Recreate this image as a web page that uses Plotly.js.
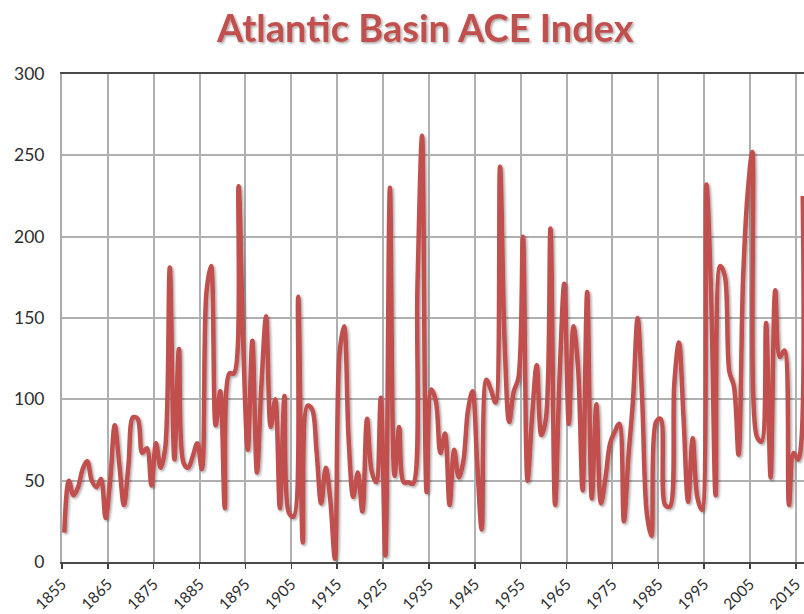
<!DOCTYPE html>
<html>
<head>
<meta charset="utf-8">
<script src="https://cdn.plot.ly/plotly-3.0.1.min.js"></script>
<style>
  html, body { margin: 0; padding: 0; background: #fff; }
  #chart { width: 804px; height: 614px; }
</style>
</head>
<body>
<div id="chart"></div>
<script>
const years = [
  1855,1856,1857,1858,1859,1860,1861,1862,1863,1864,
  1865,1866,1867,1868,1869,1870,1871,1872,1873,1874,
  1875,1876,1877,1878,1879,1880,1881,1882,1883,1884,
  1885,1886,1887,1888,1889,1890,1891,1892,1893,1894,
  1895,1896,1897,1898,1899,1900,1901,1902,1903,1904,
  1905,1906,1907,1908,1909,1910,1911,1912,1913,1914,
  1915,1916,1917,1918,1919,1920,1921,1922,1923,1924,
  1925,1926,1927,1928,1929,1930,1931,1932,1933,1934,
  1935,1936,1937,1938,1939,1940,1941,1942,1943,1944,
  1945,1946,1947,1948,1949,1950,1951,1952,1953,1954,
  1955,1956,1957,1958,1959,1960,1961,1962,1963,1964,
  1965,1966,1967,1968,1969,1970,1971,1972,1973,1974,
  1975,1976,1977,1978,1979,1980,1981,1982,1983,1984,
  1985,1986,1987,1988,1989,1990,1991,1992,1993,1994,
  1995,1996,1997,1998,1999,2000,2001,2002,2003,2004,
  2005,2006,2007,2008,2009,2010,2011,2012,2013,2014,
  2015,2016
];
const aceValues = [
  18,50,41,46,57,62,50,46,51,27,
  50,84,60,35,60,89,88,67,70,47,
  73,58,70,181,63,131,61,58,65,73,
  57,166,182,84,105,33,116,116,231,135,
  69,136,55,110,151,83,100,33,102,30,
  28,163,12,96,94,68,36,58,38,2,
  128,145,75,40,55,31,88,56,49,101,
  4,230,53,83,49,49,48,170,262,43,
  106,99,67,79,35,69,52,62,93,105,
  62,20,112,106,98,243,135,86,105,113,
  200,50,90,121,78,88,205,35,115,171,
  85,145,120,44,166,39,97,36,52,73,
  80,85,25,65,100,150,99,30,16,86,
  88,35,34,110,135,89,37,76,40,32,
  232,166,41,182,176,117,108,66,175,227,
  252,77,74,147,52,167,126,130,35,67,
  63,225
];
const xTickLabels = ['1855','1865','1875','1885','1895','1905','1915','1925','1935','1945','1955','1965','1975','1985','1995','2005','2015'];
const yTickValues = [0, 50, 100, 150, 200, 250, 300];

// category axis: gridlines/ticks sit on category boundaries (half a year before the label's year)
const xTickPositions = xTickLabels.map(l => Number(l) - 0.5);

const trace = {
  x: years,
  y: aceValues,
  type: 'scatter',
  mode: 'lines',
  line: { color: '#c0504d', width: 4.5, shape: 'spline', smoothing: 1 },
  hoverinfo: 'skip'
};

const layout = {
  width: 804,
  height: 614,
  margin: { l: 62, r: 0, t: 74, b: 52 },
  paper_bgcolor: '#ffffff',
  plot_bgcolor: '#ffffff',
  showlegend: false,
  font: { family: 'Lato, "Open Sans", sans-serif', color: '#333333' },
  title: {
    text: '<b>Atlantic Basin ACE Index</b>',
    font: { family: 'Lato, "Open Sans", sans-serif', size: 38, color: '#c0504d' },
    xref: 'container', x: 0.529, xanchor: 'center',
    yref: 'container', y: 0.953, yanchor: 'middle'
  },
  xaxis: {
    range: [1854.5, 2016.27],
    tickmode: 'array',
    tickvals: xTickPositions,
    ticktext: xTickLabels,
    tickangle: -45,
    tickfont: { size: 15.5, color: '#2e2e2e' },
    ticks: 'outside',
    ticklen: 5,
    tickwidth: 1.5,
    tickcolor: '#404040',
    ticklabelshift: 0,
    ticklabelstandoff: 0,
    ticklabeloverflow: 'allow',
    showgrid: true,
    gridcolor: '#b0b0b0',
    gridwidth: 2,
    showline: true,
    linecolor: '#4a4a4a',
    linewidth: 2,
    mirror: true,
    zeroline: false,
    fixedrange: true
  },
  yaxis: {
    range: [0, 300],
    tickmode: 'array',
    tickvals: yTickValues,
    ticktext: yTickValues.map(String),
    tickfont: { size: 17.5, color: '#2e2e2e' },
    ticks: '',
    ticklabelstandoff: 12,
    showgrid: true,
    gridcolor: '#b0b0b0',
    gridwidth: 2,
    showline: true,
    linecolor: '#aaaaaa',
    linewidth: 2,
    zeroline: false,
    fixedrange: true
  }
};

Plotly.newPlot('chart', [trace], layout, { staticPlot: true, displayModeBar: false }).then(function (gd) {
  const svgNS = 'http://www.w3.org/2000/svg';
  const svg = gd.querySelector('svg.main-svg');
  let defs = svg.querySelector('defs');
  if (!defs) { defs = document.createElementNS(svgNS, 'defs'); svg.insertBefore(defs, svg.firstChild); }
  const filter = document.createElementNS(svgNS, 'filter');
  filter.setAttribute('id', 'softShadow');
  filter.setAttribute('x', '-5%'); filter.setAttribute('y', '-5%');
  filter.setAttribute('width', '110%'); filter.setAttribute('height', '110%');
  const ds = document.createElementNS(svgNS, 'feDropShadow');
  ds.setAttribute('dx', '1.5'); ds.setAttribute('dy', '1.5');
  ds.setAttribute('stdDeviation', '1.2');
  ds.setAttribute('flood-color', '#000'); ds.setAttribute('flood-opacity', '0.35');
  filter.appendChild(ds);
  defs.appendChild(filter);
  gd.querySelectorAll('.scatterlayer .js-line').forEach(p => p.setAttribute('filter', 'url(#softShadow)'));
  const t = gd.querySelector('.gtitle');
  if (t) t.setAttribute('filter', 'url(#softShadow)');
});
</script>
</body>
</html>
